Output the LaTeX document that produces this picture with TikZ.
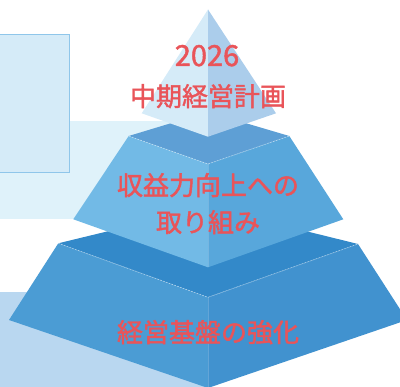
\documentclass[tikz,border=0pt]{standalone}
\usepackage{fontspec}
\newfontfamily\cjk[FakeBold=1.6]{Noto Sans CJK JP}
\definecolor{txtred}{RGB}{233,84,89}
\definecolor{apexL}{RGB}{213,235,248}
\definecolor{apexR}{RGB}{171,205,235}
\definecolor{midT}{RGB}{94,159,213}
\definecolor{midL}{RGB}{114,186,230}
\definecolor{midR}{RGB}{88,167,219}
\definecolor{botT}{RGB}{51,137,201}
\definecolor{botL}{RGB}{75,156,212}
\definecolor{botR}{RGB}{65,146,207}
\definecolor{bandA}{RGB}{223,242,250}
\definecolor{bandB}{RGB}{185,215,240}
\definecolor{boxFill}{RGB}{213,235,248}
\definecolor{boxLine}{RGB}{143,198,234}
\tikzset{
  label/.style={font=\cjk\fontsize{26}{30}\selectfont, text=txtred, anchor=base, inner sep=0pt},
  ridge/.style={white, opacity=0.55, line width=0.5pt, dash pattern=on 2pt off 1pt},
  seam/.style={white, opacity=0.18, line width=0.6pt}
}
\begin{document}
\begin{tikzpicture}[x=1pt,y=-1pt]
\useasboundingbox (0,0) rectangle (400,387);
\clip (0,0) rectangle (400,387);
% background bands
\fill[bandA] (0,120.7) rectangle (210,219.3);
\fill[bandB] (0,292) rectangle (210,390);
\draw[boxLine, fill=boxFill, line width=0.9pt] (-2,34.3) rectangle (69.3,172.7);
% bottom tier
\fill[botT] (58.3,243.3) -- (208,207) -- (358,244) -- (208,297.3) -- cycle;
\fill[botL] (58.3,243.3) -- (208,297.3) -- (208,388) -- (9,320) -- cycle;
\fill[botR] (208,297.3) -- (358,244) -- (407,320) -- (208,388) -- cycle;
\draw[ridge] (58.3,243.3) -- (208,297.3) -- (358,244);
\draw[seam] (208,297.3) -- (208,388);
% middle tier
\fill[midT] (128.7,136) -- (208,112) -- (289.3,136) -- (208,164) -- cycle;
\fill[midL] (128.7,136) -- (208,164) -- (208,267.3) -- (73.3,219.3) -- cycle;
\fill[midR] (208,164) -- (289.3,136) -- (343.3,219.3) -- (208,267.3) -- cycle;
\draw[ridge] (128.7,136) -- (208,164) -- (289.3,136);
\draw[seam] (208,164) -- (208,267.3);
% top pyramid
\fill[apexL] (141.7,113.3) -- (208,9.5) -- (208,136.7) -- cycle;
\fill[apexR] (208,9.5) -- (276,113.3) -- (208,136.7) -- cycle;
% texts
\node[label, font=\cjk\fontsize{29}{32}\selectfont] (yr) at (207,66) {2026};
\node[label] (plan) at (208,106) {中期経営計画};
\node[label] (profit1) at (208,195) {収益力向上への};
\node[label] (profit2) at (208,232) {取り組み};
\node[label] (base) at (208,342) {経営基盤の強化};
\end{tikzpicture}
\end{document}
